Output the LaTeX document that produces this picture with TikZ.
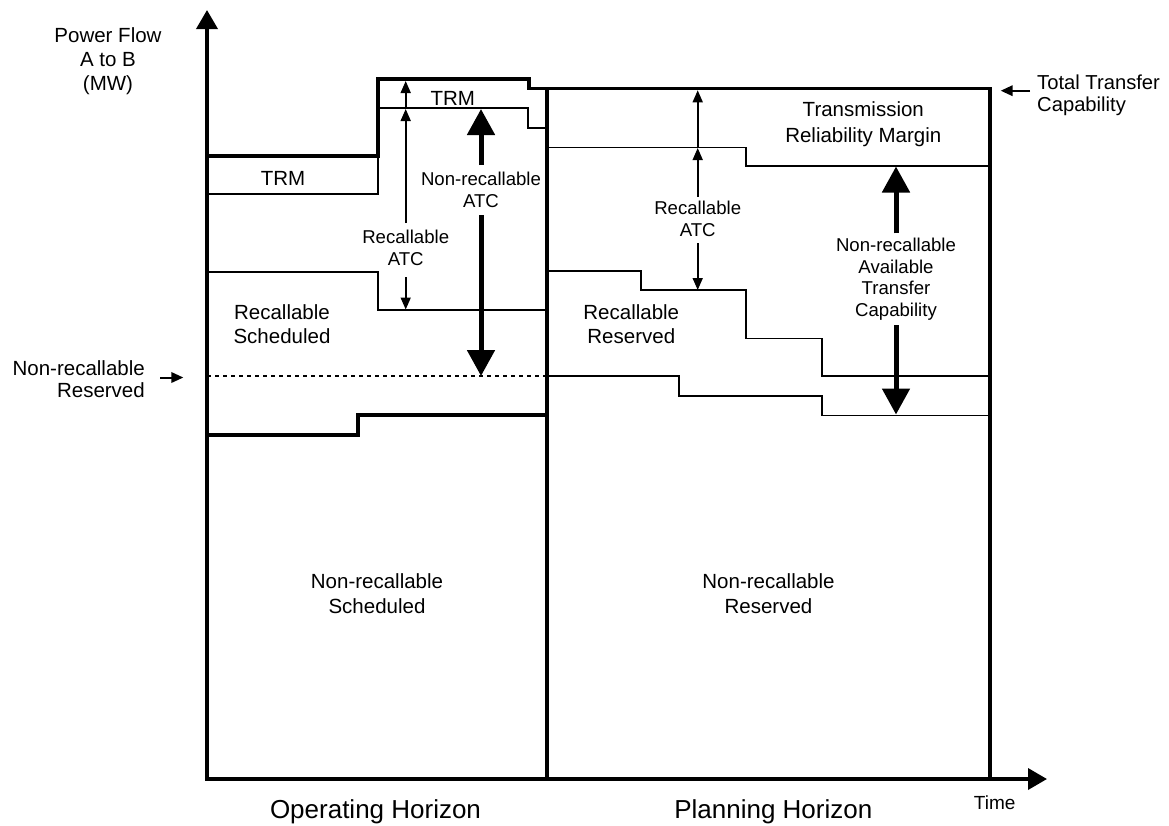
\documentclass[tikz,border=0pt]{standalone}
\usepackage{fontspec}
\setmainfont{Liberation Sans}
\usetikzlibrary{arrows.meta}
\begin{document}
\begin{tikzpicture}[x=1pt,y=-1pt,
  bold/.style={line width=3.6pt, line join=miter},
  fine/.style={line width=1.6pt, line join=miter},
  dotline/.style={line width=1.4pt, dash pattern=on 4pt off 4pt},
  axis/.style={line width=3.6pt, line join=miter,
    {Triangle[length=19pt,width=21pt]}-{Triangle[length=19pt,width=21pt]}},
  dimarrow/.style={line width=1.6pt, -{Triangle[length=12pt,width=10pt]}},
  bigarrow/.style={line width=5pt, -{Triangle[length=26pt,width=27pt]}},
  pointer/.style={line width=2pt, -{Triangle[length=12pt,width=10.5pt]}},
  lbl/.style={font=\fontsize{20.5}{23.5}\selectfont, align=center, inner sep=0pt},
  wide/.style={font=\fontsize{20.5}{26.5}\selectfont, align=center, inner sep=0pt},
  small/.style={font=\fontsize{18.6}{21.5}\selectfont, align=center, inner sep=0pt},
  horizon/.style={font=\fontsize{26}{30}\selectfont, inner sep=0pt},
]
\useasboundingbox (0,0) rectangle (1169,825);

% axes
\coordinate (ytip) at (207,10);
\coordinate (origin) at (207,779);
\coordinate (xtip) at (1047,779);
\draw[axis] (ytip) -- (origin) -- (xtip);

% horizon divider
\coordinate (divB) at (547,779);
\coordinate (divT) at (547,88.5);
\draw[bold] (divB) -- (divT);

% total transfer capability outline and right edge
\draw[bold] (207,155.7) -- (377.7,155.7) -- (377.7,79) -- (529,79) -- (529,88.5)
  -- (990,88.5) -- (990,779);

% operating horizon: TRM lower bound
\draw[fine] (207,194) -- (377.7,194) -- (377.7,107.7) -- (528,107.7) -- (528,127.7) -- (547,127.7);
% operating horizon: top of recallable scheduled
\draw[fine] (207,271.7) -- (377.7,271.7) -- (377.7,310) -- (547,310);
% operating horizon: non-recallable reserved level
\draw[dotline] (207,376) -- (547,376);
% operating horizon: top of non-recallable scheduled
\draw[bold] (207,435) -- (357.7,435) -- (357.7,415) -- (547,415);

% planning horizon: TRM lower bound
\draw[fine] (547,147.3) -- (746,147.3) -- (746,166) -- (990,166);
% planning horizon: top of recallable reserved
\draw[fine] (547,271) -- (640.7,271) -- (640.7,290) -- (746,290) -- (746,338.3)
  -- (821.7,338.3) -- (821.7,376) -- (990,376);
% planning horizon: top of non-recallable reserved
\draw[fine] (547,376) -- (679,376) -- (679,396) -- (821.7,396) -- (821.7,415.3) -- (990,415.3);

% dimension arrows, operating horizon
\coordinate (oTrmLo) at (405.7,108.5);
\coordinate (oTrmHi) at (405.7,81);
\draw[dimarrow] (oTrmLo) -- (oTrmHi);
\node[small] (oRatc) at (405.7,248) {Recallable\\ATC};
\coordinate (oRatcGapT) at (405.7,223);
\coordinate (oRatcGapB) at (405.7,277);
\coordinate (oRatcTop) at (405.7,109);
\coordinate (oRatcBot) at (405.7,309.5);
\draw[dimarrow] (oRatcGapT) -- (oRatcTop);
\draw[dimarrow] (oRatcGapB) -- (oRatcBot);

\node[small] (oNratc) at (481,190) {Non-recallable\\ATC};
\coordinate (oNratcGapT) at (481,165);
\coordinate (oNratcGapB) at (481,215);
\coordinate (oNratcTop) at (481,109);
\coordinate (oNratcBot) at (481,376);
\draw[bigarrow] (oNratcGapT) -- (oNratcTop);
\draw[bigarrow] (oNratcGapB) -- (oNratcBot);

% dimension arrows, planning horizon
\coordinate (pTrmLo) at (697.7,147.5);
\coordinate (pTrmHi) at (697.7,90.3);
\draw[dimarrow] (pTrmLo) -- (pTrmHi);
\node[small] (pRatc) at (697.7,219) {Recallable\\ATC};
\coordinate (pRatcGapT) at (697.7,196.7);
\coordinate (pRatcGapB) at (697.7,243.3);
\coordinate (pRatcTop) at (697.7,148);
\coordinate (pRatcBot) at (697.7,290);
\draw[dimarrow] (pRatcGapT) -- (pRatcTop);
\draw[dimarrow] (pRatcGapB) -- (pRatcBot);

\node[small] (pNratc) at (896,279) {Non-recallable\\Available\\Transfer\\Capability};
\coordinate (pNratcGapT) at (896,233.3);
\coordinate (pNratcGapB) at (896,325);
\coordinate (pNratcTop) at (896,166.5);
\coordinate (pNratcBot) at (896,414.5);
\draw[bigarrow] (pNratcGapT) -- (pNratcTop);
\draw[bigarrow] (pNratcGapB) -- (pNratcBot);

% region labels
\node[lbl] (trmA) at (283,178) {TRM};
\node[lbl] (trmB) at (452.7,98) {TRM};
\node[wide] (trmC) at (863.3,124) {Transmission\\Reliability Margin};
\node[lbl] (rsched) at (282,324) {Recallable\\Scheduled};
\node[lbl] (rres) at (631.3,324) {Recallable\\Reserved};
\node[font=\fontsize{20.5}{25}\selectfont, align=center, inner sep=0pt] (nrsched) at (377,593.5) {Non-recallable\\Scheduled};
\node[font=\fontsize{20.5}{25}\selectfont, align=center, inner sep=0pt] (nrres) at (768.5,593.5) {Non-recallable\\Reserved};

% axis and side labels
\node[font=\fontsize{20.5}{24}\selectfont, align=center, inner sep=0pt] (ylab) at (108,61) {Power Flow\\A to B\\(MW)};
\node[font=\fontsize{20.2}{22.5}\selectfont, align=left, inner sep=0pt, anchor=west] (ttc) at (1037,95.5) {Total Transfer\\Capability};
\coordinate (ttcTail) at (1030,90.7);
\coordinate (ttcTip) at (1000.7,90.7);
\draw[pointer] (ttcTail) -- (ttcTip);
\node[font=\fontsize{20.5}{21.5}\selectfont, align=right, inner sep=0pt, anchor=east] (nrresL) at (145,379) {Non-recallable\\Reserved};
\coordinate (nrTail) at (160,377.5);
\coordinate (nrTip) at (183.3,377.5);
\draw[pointer] (nrTail) -- (nrTip);

\node[horizon] (ophz) at (375.5,811.7) {Operating Horizon};
\node[horizon] (plhz) at (773.3,811.7) {Planning Horizon};
\node[font=\fontsize{19}{22}\selectfont, inner sep=0pt] (time) at (994.7,803) {Time};
\end{tikzpicture}
\end{document}
